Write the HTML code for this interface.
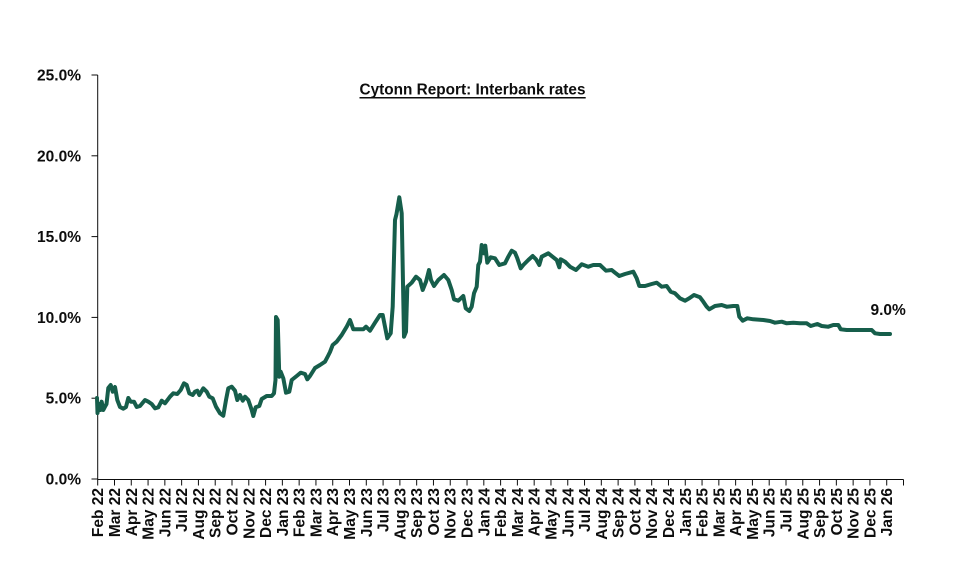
<!DOCTYPE html>
<html>
<head>
<meta charset="utf-8">
<style>
  html,body{margin:0;padding:0;background:#fff;}
  svg{display:block;}
  text{font-family:"Liberation Sans",Arial,sans-serif;font-weight:bold;fill:#0d0d0d;}
</style>
</head>
<body>
<svg width="980" height="582" viewBox="0 0 980 582" xmlns="http://www.w3.org/2000/svg">
  <rect width="980" height="582" fill="#fff"/>

  <!-- Title -->
  <text x="359.5" y="94.5" font-size="15.5" textLength="226" lengthAdjust="spacingAndGlyphs">Cytonn Report: Interbank rates</text>
  <line x1="359.5" y1="97.8" x2="585.7" y2="97.8" stroke="#0d0d0d" stroke-width="1.5"/>

  <!-- Y axis -->
  <g stroke="#0d0d0d" stroke-width="1">
    <line x1="97.7" y1="75" x2="97.7" y2="479.5"/>
    <line x1="91.5" y1="75" x2="97.7" y2="75"/>
    <line x1="91.5" y1="155.8" x2="97.7" y2="155.8"/>
    <line x1="91.5" y1="236.6" x2="97.7" y2="236.6"/>
    <line x1="91.5" y1="317.4" x2="97.7" y2="317.4"/>
    <line x1="91.5" y1="398.2" x2="97.7" y2="398.2"/>
    <line x1="91.5" y1="479" x2="97.7" y2="479"/>
  </g>
  <g font-size="15.5" text-anchor="end">
    <text x="81" y="80.5">25.0%</text>
    <text x="81" y="161.3">20.0%</text>
    <text x="81" y="242.1">15.0%</text>
    <text x="81" y="322.9">10.0%</text>
    <text x="81" y="403.7">5.0%</text>
    <text x="81" y="484.5">0.0%</text>
  </g>

  <!-- X axis -->
  <line x1="97.7" y1="479.5" x2="903.5" y2="479.5" stroke="#0d0d0d" stroke-width="1"/>
  <g id="xticks" stroke="#0d0d0d" stroke-width="1"></g>
  <g id="xlabels" font-size="15.5" text-anchor="end"></g>

  <!-- Series -->
  <polyline fill="none" stroke="#165E4B" stroke-width="4" stroke-linejoin="round" stroke-linecap="round"
    points="97,398 97.5,413 99,404 100.5,410 101.7,401.7 103.3,410 105,406.7 106.5,404 108.3,388 110.7,385 112.7,391.7 115,387 117.3,400 120,407 123.3,408.7 126,407 128.3,398 130.7,401.7 134,401.7 136.7,407 140,406 145,400 148.3,401.7 151.7,404 155,408.3 158.3,407.3 161.7,400.7 165,403.3 170,396.7 173.3,393.3 177.3,394 180.7,390 184,383.3 186.7,385 189.3,393.3 192.7,395 195,391.7 197.3,390.7 199.3,395 203.3,388.3 206.7,391.7 209.3,396.7 212.7,398.3 216,406.7 220,413.3 223.3,415.7 226,400 228.3,388.3 231.7,386.7 235,390.7 237.3,400 240,395 242.7,400.7 245,396.7 248.3,400 251.7,410 253.3,416 255.7,407.3 259.3,406 261.7,399 266.7,396 271.7,396 274,393.3 275.5,380 276,317 277.7,320 279.3,376.7 280.7,371.7 283.3,378.3 286,392.7 289.3,391.7 291.7,380 296.7,376 300.7,372.7 305,374 307.3,379.3 310,376 315,368 320,365 325,361.7 328,356 330,352 332.7,345 336.7,341.7 341.7,335 346.7,326.7 350,320 353.3,329.3 363.3,329.3 366,326.7 370,330.7 375,322.7 380,315 382.7,315 385,326.7 387.3,338.3 390.7,333.3 392.7,306.7 395,220 396.5,214 399.3,197.3 401.7,213.3 404,336.7 406,331.7 407.3,286.7 411.7,282.7 416,276.7 420,280 422.7,290 426,281.7 429,270 431,280 434,286 438.3,280 444,275 448.3,280 451.7,290 454,299.3 458.3,300.7 463.3,296 465.7,308.3 469.3,311 471.7,306.7 474,293.3 476.7,286.7 478.3,265 480,261.7 481.7,245 484,253.3 485.3,245.7 487.3,262.7 490.7,257.3 495,258.3 499.3,265 505,263.3 508.3,256.7 511.7,250.7 515,252.7 517.3,258.3 520.7,268.3 523.3,265 528.3,260 532.7,256 536,259.3 539.3,265 541.7,256.7 548.3,253.3 553.3,257.3 556.7,260 559.3,267.3 560.7,259.3 565,261.7 570,266.7 576,270 581.7,264.3 588.3,266.7 593.3,265 600,265 606,270.7 611.7,270 615,272.7 619.3,276 625,274 633.3,271.7 636.7,278.3 639.3,286 645,286 651.7,284 656.7,282.7 661.7,286.7 666.7,286 670.7,291.7 675,293.3 680,298.3 685,300.7 689.3,298.3 694,295 700,297.3 703.3,301.7 706.7,306.7 709.3,309.3 715,306 721.7,305 726.7,306.7 733.3,306 737.3,306 739.3,316.7 742.7,320.7 747.3,318.3 753.3,319.3 763.3,320 770,321 775,322.7 781.7,321.7 786.7,323.3 793.3,322.7 800,323.3 806.7,323.3 810.7,326 817.3,324 821.7,326 828.3,326.7 833.3,325 838.3,325 840.7,329.3 846.7,330 871.7,330 875,333.3 880,334 890,334"/>

  <!-- End label -->
  <text x="870.5" y="315" font-size="15.5">9.0%</text>
</svg>
<script>
(function(){
  var ns="http://www.w3.org/2000/svg";
  var months=["Jan","Feb","Mar","Apr","May","Jun","Jul","Aug","Sep","Oct","Nov","Dec"];
  var x0=97.7, step=(903.5-97.7)/48;
  var tg=document.getElementById("xticks"), lg=document.getElementById("xlabels");
  for(var i=0;i<=48;i++){
    var x=x0+i*step;
    var l=document.createElementNS(ns,"line");
    l.setAttribute("x1",x);l.setAttribute("x2",x);
    l.setAttribute("y1",479.5);l.setAttribute("y2",485.5);
    tg.appendChild(l);
    if(i<48){
      var m=(1+i)%12, y=22+Math.floor((1+i)/12);
      var t=document.createElementNS(ns,"text");
      var bx=x+5.5, by=488;
      t.setAttribute("x",bx);t.setAttribute("y",by);
      t.setAttribute("transform","rotate(-90 "+bx+" "+by+")");
      t.textContent=months[m]+" "+y;
      lg.appendChild(t);
    }
  }
})();
</script>
</body>
</html>
